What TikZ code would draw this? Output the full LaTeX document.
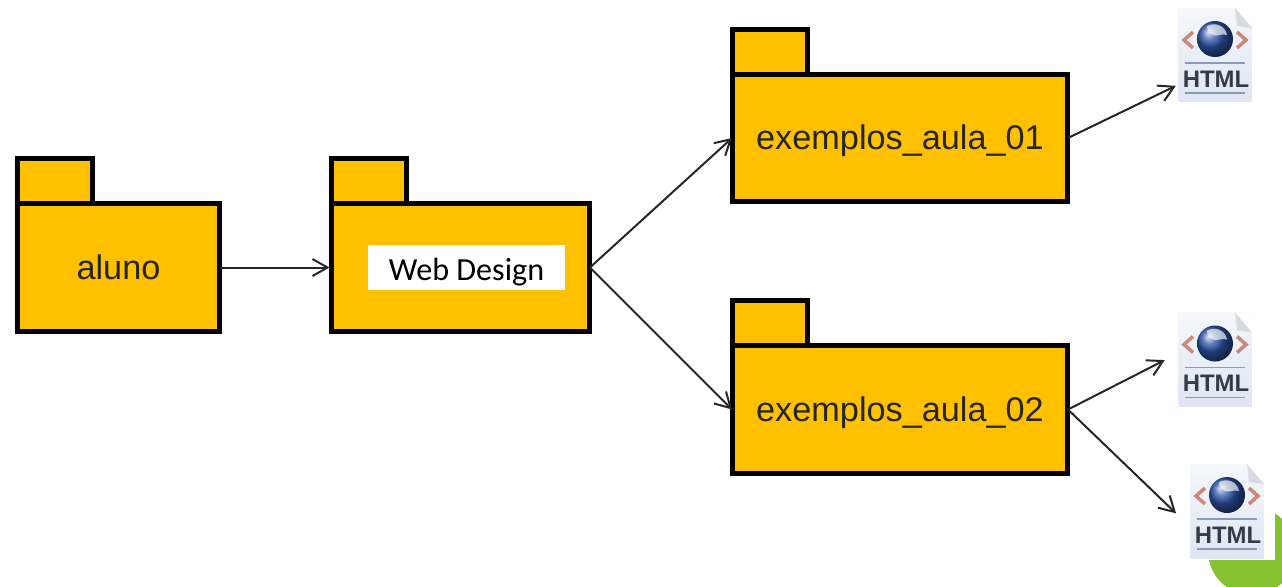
\documentclass[tikz,border=0pt]{standalone}
\usepackage{fontspec}
\setmainfont{Liberation Sans}
\newfontfamily\calibrifont{Carlito}
\usepackage{tikz}
\usetikzlibrary{arrows.meta}

\definecolor{pastacor}{RGB}{255,192,0}
\definecolor{folhacor}{RGB}{222,230,242}
\definecolor{dobracor}{RGB}{215,218,222}
\definecolor{htmlcor}{RGB}{52,60,70}
\definecolor{linhacor}{RGB}{135,155,185}
\definecolor{setacor}{RGB}{205,135,125}
\definecolor{verdecor}{RGB}{132,194,50}
\definecolor{globocor}{RGB}{45,85,170}

\tikzset{
  pasta/.style={draw=black,line width=.1cm,fill=pastacor,outer sep=0pt,inner sep=0pt,
    minimum height=2.56cm,text=black!85,text height=.52cm,text depth=.06cm,
    font=\fontsize{19.5}{22}\selectfont},
  aba/.style={draw=black,line width=.1cm,fill=pastacor,outer sep=0pt,inner sep=0pt,
    minimum width=1.5cm,minimum height=.9cm},
  rotulo/.style={fill=white,minimum width=3.94cm,minimum height=.9cm,inner sep=0pt,
    text height=.5cm,text depth=0pt,font=\calibrifont\fontsize{18.3}{20}\selectfont},
  folha/.style={top color=white!70!folhacor,bottom color=folhacor,outer sep=0pt,inner sep=0pt,
    minimum width=1.46cm,minimum height=1.88cm},
  seta/.style={-{Straight Barb[length=.3cm,width=.34cm]},line width=.04cm,black!85},
  sinal/.style={setacor,line width=.07cm},
  regua/.style={linhacor,line width=.03cm}
}

% page icon: name, x, y
\newcommand{\iconehtml}[3]{
  \node[folha] (#1) at (#2,#3) {};
  \begin{scope}[shift={(#1.center)}]
    \fill[white] (20,-47) -- (37,-47) -- (37,-27) -- cycle;
    \fill[dobracor] (20,-47) -- (37,-27) -- (22,-29) -- cycle;
    \shade[ball color=globocor] (0,-16) circle (.36cm);
    \fill[white,opacity=.65] (-8,-29) .. controls (0,-33) and (10,-30) .. (12,-20)
      .. controls (6,-22) and (2,-18) .. (-2,-20) .. controls (-6,-22) and (-8,-25) .. (-8,-29);
    \draw[sinal] (-22,-23) -- (-31,-15) -- (-22,-7);
    \draw[sinal] (22,-23) -- (31,-15) -- (22,-7);
    \draw[regua] (-30,8) -- (30,8);
    \draw[regua] (-30,38) -- (30,38);
    \node[text=htmlcor,inner sep=0pt,font=\bfseries\fontsize{13.6}{15}\selectfont] (#1txt) at (1,24) {HTML};
  \end{scope}
}

\begin{document}
\begin{tikzpicture}[x=.02cm,y=-.02cm]
\clip (0,0) rectangle (1282,586);
\fill[white] (0,0) rectangle (1282,586);

\fill[verdecor] (1252,551) circle (.88cm);
\fill[white] (1140,440) rectangle (1275,560);

\node[pasta,minimum width=4.06cm] (aluno) at (118.5,267.5) {aluno};
\node[pasta,minimum width=5.18cm] (webdesign) at (460.5,267.5) {};
\node[pasta,minimum width=6.72cm] (aula01) at (900,138) {exemplos\_aula\_01};
\node[pasta,minimum width=6.72cm] (aula02) at (900,409.5) {exemplos\_aula\_02};
\foreach \p in {aluno,webdesign,aula01,aula02}
   \node[aba,anchor=south west] (aba\p) at (\p.north west) {};
\node[rotulo] (rotuloweb) at (466.5,267.5) {Web Design};

\iconehtml{iconea}{1215}{55}
\iconehtml{iconeb}{1215}{359.5}
\iconehtml{iconec}{1227}{511}

\draw[seta,shorten >=.03cm] (aluno.east) -- (webdesign.west);
\draw[seta] (webdesign.east) -- (aula01.west);
\draw[seta] (webdesign.east) -- (aula02.west);
\draw[seta,shorten >=.06cm] (aula01.east) -- (iconea.219);
\draw[seta,shorten >=.31cm] (aula02.east) -- (iconeb.170);
\draw[seta,shorten >=.4cm] (aula02.east) -- (iconec.204);
\end{tikzpicture}
\end{document}
